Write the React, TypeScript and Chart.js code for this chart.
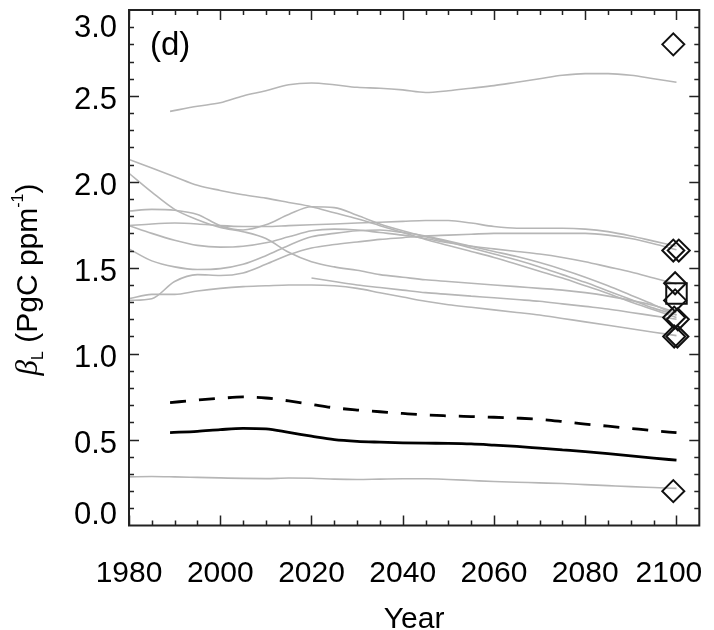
import { useEffect, useRef } from "react";
import { Chart, registerables } from "chart.js";
Chart.register(...registerables);

// ---- data ----
const yearsFull = [1980, 1985, 1990, 1995, 2000, 2005, 2010, 2015, 2020, 2025, 2030, 2035, 2040, 2045, 2050, 2055, 2060, 2065, 2070, 2075, 2080, 2085, 2090, 2095, 2100];
const yearsLate = [1989, 1995, 2000, 2005, 2010, 2015, 2020, 2025, 2030, 2035, 2040, 2045, 2050, 2055, 2060, 2065, 2070, 2075, 2080, 2085, 2090, 2095, 2100];
const yearsFrom2020 = [2020, 2025, 2030, 2035, 2040, 2045, 2050, 2055, 2060, 2065, 2070, 2075, 2080, 2085, 2090, 2095, 2100];

const modelTop = [2.41, 2.44, 2.46, 2.50, 2.53, 2.565, 2.575, 2.565, 2.55, 2.545, 2.535, 2.52, 2.53, 2.545, 2.56, 2.58, 2.60, 2.62, 2.63, 2.63, 2.62, 2.60, 2.58];
const modelA = [2.13, 2.08, 2.03, 1.98, 1.95, 1.925, 1.905, 1.88, 1.855, 1.82, 1.785, 1.745, 1.705, 1.665, 1.63, 1.595, 1.56, 1.52, 1.48, 1.44, 1.395, 1.35, 1.30, 1.255, 1.21];
const modelB = [2.05, 1.94, 1.84, 1.78, 1.735, 1.71, 1.67, 1.59, 1.535, 1.505, 1.485, 1.46, 1.445, 1.43, 1.42, 1.41, 1.40, 1.39, 1.38, 1.37, 1.355, 1.335, 1.31, 1.28, 1.24];
const modelC = [1.83, 1.84, 1.835, 1.81, 1.745, 1.72, 1.75, 1.81, 1.855, 1.85, 1.805, 1.755, 1.715, 1.68, 1.65, 1.615, 1.58, 1.545, 1.505, 1.46, 1.415, 1.365, 1.315, 1.265, 1.225];
const modelD = [1.745, 1.755, 1.76, 1.755, 1.745, 1.74, 1.74, 1.745, 1.75, 1.755, 1.76, 1.765, 1.77, 1.775, 1.775, 1.76, 1.74, 1.73, 1.73, 1.73, 1.725, 1.71, 1.685, 1.655, 1.625];
const modelE = [1.745, 1.70, 1.66, 1.63, 1.62, 1.625, 1.645, 1.68, 1.715, 1.725, 1.72, 1.705, 1.69, 1.67, 1.645, 1.625, 1.61, 1.595, 1.58, 1.56, 1.535, 1.505, 1.475, 1.44, 1.405];
const modelF = [1.61, 1.54, 1.505, 1.49, 1.495, 1.52, 1.57, 1.63, 1.68, 1.70, 1.715, 1.72, 1.705, 1.685, 1.655, 1.625, 1.595, 1.565, 1.53, 1.49, 1.445, 1.395, 1.34, 1.285, 1.225];
const modelG = [1.31, 1.32, 1.42, 1.46, 1.455, 1.47, 1.52, 1.575, 1.615, 1.635, 1.65, 1.665, 1.675, 1.685, 1.69, 1.695, 1.70, 1.70, 1.70, 1.70, 1.70, 1.69, 1.67, 1.64, 1.605];
const modelH = [1.32, 1.345, 1.345, 1.365, 1.38, 1.39, 1.395, 1.40, 1.40, 1.395, 1.38, 1.355, 1.33, 1.305, 1.285, 1.27, 1.255, 1.24, 1.225, 1.205, 1.185, 1.165, 1.145, 1.125, 1.105];
const modelI = [1.44, 1.42, 1.40, 1.385, 1.37, 1.355, 1.345, 1.335, 1.325, 1.315, 1.305, 1.29, 1.275, 1.26, 1.24, 1.22, 1.20];
const modelBottom = [0.283, 0.285, 0.283, 0.28, 0.277, 0.274, 0.273, 0.276, 0.275, 0.27, 0.268, 0.27, 0.272, 0.272, 0.268, 0.262, 0.256, 0.252, 0.248, 0.244, 0.238, 0.232, 0.226, 0.221, 0.216];

const meanSolid = [0.541, 0.548, 0.558, 0.565, 0.562, 0.542, 0.52, 0.50, 0.49, 0.485, 0.481, 0.479, 0.478, 0.475, 0.468, 0.46, 0.45, 0.44, 0.43, 0.418, 0.405, 0.392, 0.38];
const meanDashed = [0.715, 0.73, 0.74, 0.748, 0.742, 0.725, 0.705, 0.685, 0.672, 0.662, 0.652, 0.643, 0.638, 0.634, 0.63, 0.625, 0.618, 0.605, 0.59, 0.578, 0.565, 0.552, 0.54];

const diamondYears = [2099.3, 2099.3, 2100.5, 2099.7, 2099.7, 2099.5, 2100.3, 2099.5, 2100.2, 2099.3];
const diamondValues = [2.80, 1.60, 1.60, 1.41, 1.31, 1.21, 1.20, 1.10, 1.10, 0.20];
const squareYears = [2100];
const squareValues = [1.35];

const xTickLabels = [1980, 2000, 2020, 2040, 2060, 2080, 2100];
const yTickLabels = ["0.0", "0.5", "1.0", "1.5", "2.0", "2.5", "3.0"];

const toPts = (xs: number[], ys: number[]) => xs.map((x, i) => ({ x, y: ys[i] }));

const SANS = '"Liberation Sans", Arial, Helvetica, sans-serif';

const framePlugin = {
  id: "frame",
  afterDraw(chart: any) {
    const { ctx, chartArea: a, scales } = chart;
    const xs = scales.x;
    const ys = scales.y;
    ctx.save();
    ctx.strokeStyle = "#222";
    ctx.lineWidth = 1.5;
    ctx.beginPath();
    for (let yr = 1980; yr <= 2100; yr += 5) {
      const px = Math.round(xs.getPixelForValue(yr)) + 0.5;
      const len = yr % 20 === 0 ? 10 : 5;
      ctx.moveTo(px, a.bottom);
      ctx.lineTo(px, a.bottom - len);
      ctx.moveTo(px, a.top);
      ctx.lineTo(px, a.top + len);
    }
    for (let k = 1; k < 30; k++) {
      const py = Math.round(ys.getPixelForValue(k / 10)) + 0.5;
      const len = k % 5 === 0 ? 10 : 5;
      ctx.moveTo(a.left, py);
      ctx.lineTo(a.left + len, py);
      ctx.moveTo(a.right, py);
      ctx.lineTo(a.right - len, py);
    }
    ctx.stroke();
    ctx.lineWidth = 2;
    ctx.strokeRect(a.left, a.top, a.right - a.left, a.bottom - a.top);

    ctx.fillStyle = "#000";
    ctx.font = "30px " + SANS;
    ctx.textBaseline = "alphabetic";
    // x tick labels
    ctx.textAlign = "center";
    xTickLabels.forEach((v) => {
      const w = ctx.measureText(String(v)).width;
      let cx = xs.getPixelForValue(v);
      if (cx + w / 2 > a.right + 3) cx = a.right + 3 - w / 2;
      ctx.fillText(String(v), cx, 582);
    });
    // y tick labels
    ctx.textAlign = "right";
    ctx.font = "31px " + SANS;
    yTickLabels.forEach((s) => {
      let by = ys.getPixelForValue(parseFloat(s)) + 13;
      by = Math.max(a.top + 27, Math.min(a.bottom - 2, by));
      ctx.fillText(s, 117, by);
    });
    // x title
    ctx.font = "30px " + SANS;
    ctx.textAlign = "center";
    ctx.fillText("Year", (a.left + a.right) / 2, 628);
    // panel label
    ctx.font = "33px " + SANS;
    ctx.textAlign = "left";
    ctx.fillText("(d)", 150, 55);

    // y title rotated
    ctx.save();
    ctx.translate(37, 0);
    ctx.rotate(-Math.PI / 2);
    ctx.textAlign = "left";
    const pieces = [
      { t: "\u03B2", f: 'italic 31px "Liberation Serif", serif', dy: 0 },
      { t: "L", f: "16px " + SANS, dy: 6 },
      { t: " (PgC ppm", f: "30px " + SANS, dy: 0 },
      { t: "-1", f: "16px " + SANS, dy: -14 },
      { t: ")", f: "30px " + SANS, dy: 0 },
    ];
    let total = 0;
    pieces.forEach((p) => {
      ctx.font = p.f;
      total += ctx.measureText(p.t).width;
    });
    let u = -279.5 - total / 2;
    pieces.forEach((p) => {
      ctx.font = p.f;
      ctx.fillText(p.t, u, p.dy);
      u += ctx.measureText(p.t).width;
    });
    ctx.restore();
    ctx.restore();
  },
};

export default function App() {
  const ref = useRef<HTMLCanvasElement>(null);
  useEffect(() => {
    if (!ref.current) return;
    const grey = (xs: number[], ys: number[]) => ({
      data: toPts(xs, ys),
      borderColor: "#b6b6b6",
      borderWidth: 1.6,
      pointRadius: 0,
      cubicInterpolationMode: "monotone" as const,
      order: 3,
    });
    const chart = new Chart(ref.current, {
      type: "line",
      data: {
        datasets: [
          {
            data: toPts(diamondYears, diamondValues),
            showLine: false,
            pointStyle: "rectRot",
            pointRadius: 11,
            pointBorderWidth: 2,
            pointBorderColor: "#111",
            pointBackgroundColor: "rgba(0,0,0,0)",
            order: 0,
          },
          {
            data: toPts(squareYears, squareValues),
            showLine: false,
            pointStyle: "rect",
            pointRadius: 14.5,
            pointBorderWidth: 2,
            pointBorderColor: "#111",
            pointBackgroundColor: "rgba(0,0,0,0)",
            order: 0,
          },
          {
            data: toPts(yearsLate, meanSolid),
            borderColor: "#000",
            borderWidth: 2.8,
            pointRadius: 0,
            cubicInterpolationMode: "monotone",
            order: 1,
          },
          {
            data: toPts(yearsLate, meanDashed),
            borderColor: "#000",
            borderWidth: 2.8,
            borderDash: [16, 13],
            pointRadius: 0,
            cubicInterpolationMode: "monotone",
            order: 1,
          },
          grey(yearsLate, modelTop),
          grey(yearsFull, modelA),
          grey(yearsFull, modelB),
          grey(yearsFull, modelC),
          grey(yearsFull, modelD),
          grey(yearsFull, modelE),
          grey(yearsFull, modelF),
          grey(yearsFull, modelG),
          grey(yearsFull, modelH),
          grey(yearsFrom2020, modelI),
          grey(yearsFull, modelBottom),
        ],
      },
      options: {
        animation: false,
        responsive: false,
        events: [],
        layout: { autoPadding: false, padding: { left: 129, right: 14.7, top: 10, bottom: 104.5 } },
        scales: {
          x: { type: "linear", min: 1980, max: 2105, display: false },
          y: { type: "linear", min: 0, max: 3, display: false },
        },
        plugins: { legend: { display: false }, tooltip: { enabled: false } },
      },
      plugins: [framePlugin],
    });
    return () => chart.destroy();
  }, []);
  return (
    <div style={{ position: "absolute", left: 0, top: 0, width: 714, height: 630, background: "#fff" }}>
      <canvas ref={ref} width={714} height={630} />
    </div>
  );
}
